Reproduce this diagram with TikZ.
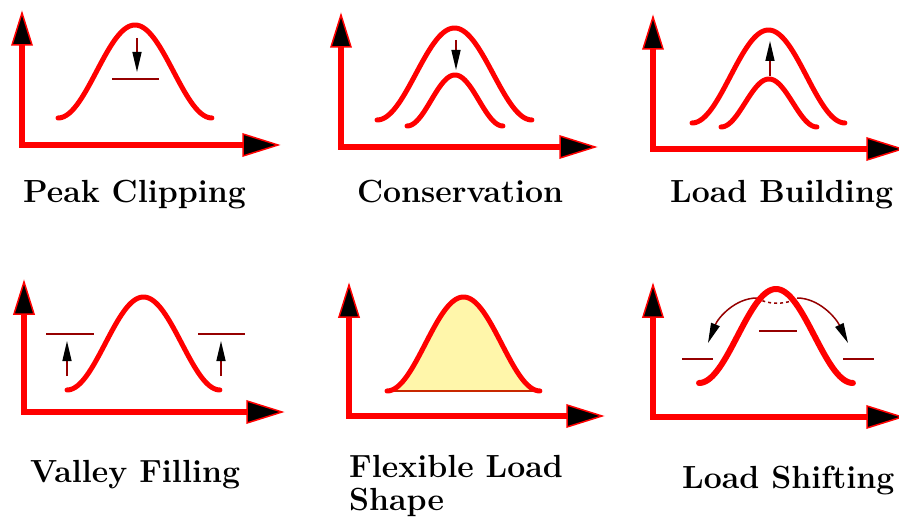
\documentclass[tikz,border=0pt]{standalone}
\usetikzlibrary{arrows.meta}
\definecolor{axred}{RGB}{255,0,0}
\definecolor{thinred}{RGB}{150,0,0}
\definecolor{fillyel}{RGB}{255,246,170}
\tikzset{
 axisline/.style={draw=axred, line width=6pt},
 curve/.style={draw=axred, line width=5pt, line cap=round, line join=round},
 thinbar/.style={draw=thinred, line width=1.5pt},
 smallarrow/.style={draw=thinred, line width=1.5pt, -{Triangle[length=20pt,width=9pt,black]}},
 ahead/.style={fill=black, draw=axred, line width=1.5pt, line join=miter},
 lbl/.style={font=\bfseries\fontsize{32}{36}\selectfont, anchor=base west, inner sep=0pt},
}
% #1 name, #2 x, #3 ytop, #4 ybottom, #5 xright
\newcommand\myaxes[5]{%
 \coordinate (#1o) at (#2,#4);
 \coordinate (#1y) at (#2,#3);
 \coordinate (#1x) at (#5,#4);
 \draw[axisline] (#2,#3+30) -- (#1o) -- (#5-30,#4);
 \path[ahead] (#1y) -- ++(-10,32) -- ++(20,0) -- cycle;
 \path[ahead] (#1x) -- ++(-35,-11) -- ++(0,22) -- cycle;
}
% #1 x0, #2 x1, #3 ybase, #4 ypeak, #5 style
\newcommand\mybell[5]{%
 \draw[#5] plot[domain=0:1, samples=80] ({#1+(#2-#1)*\x}, {#3-(#3-#4)*(1-cos(360*\x))/2});
}
\begin{document}
\begin{tikzpicture}[x=1pt,y=-1pt]
\useasboundingbox (0,0) rectangle (899,521);

% ---------- Peak Clipping ----------
\myaxes{a}{22}{13}{145}{278}
\mybell{58}{212}{118}{25}{curve}
\coordinate (a1) at (137,38);
\coordinate (a2) at (137,72);
\draw[smallarrow] (a1) -- (a2);
\draw[thinbar] (112,79) -- (159,79);
\node[lbl] (la) at (23,203) {Peak Clipping};

% ---------- Conservation ----------
\myaxes{b}{341}{15}{147}{595}
\mybell{377}{532}{120}{28}{curve}
\mybell{407}{503}{126}{75}{curve}
\coordinate (b1) at (456,40);
\coordinate (b2) at (456,70);
\draw[smallarrow] (b1) -- (b2);
\node[lbl] (lb) at (357,203) {Conservation};

% ---------- Load Building ----------
\myaxes{c}{653}{17}{149}{902}
\mybell{692}{845}{123}{30}{curve}
\mybell{721}{817}{127}{79}{curve}
\coordinate (c1) at (770,76);
\coordinate (c2) at (770,41);
\draw[smallarrow] (c1) -- (c2);
\node[lbl] (lc) at (670,203) {Load Building};

% ---------- Valley Filling ----------
\myaxes{d}{24}{282}{412}{282}
\mybell{67}{220}{390}{297}{curve}
\draw[thinbar] (46,334) -- (94,334);
\draw[thinbar] (198,334) -- (245,334);
\coordinate (d1) at (67,376);
\coordinate (d2) at (67,341);
\coordinate (d3) at (221,376);
\coordinate (d4) at (221,341);
\draw[smallarrow] (d1) -- (d2);
\draw[smallarrow] (d3) -- (d4);
\node[lbl] (ld) at (30,482) {Valley Filling};

% ---------- Flexible Load Shape ----------
\myaxes{e}{349}{285}{416}{602}
\fill[fillyel] plot[domain=0:1, samples=80] ({387+153*\x}, {391-94*(1-cos(360*\x))/2}) -- cycle;
\draw[draw={rgb,255:red,200;green,40;blue,0}, line width=1.5pt] (389,391) -- (538,391);
\mybell{387}{540}{391}{297}{curve}
\node[lbl] (le1) at (349,477) {Flexible Load};
\node[lbl] (le2) at (349,510) {Shape};

% ---------- Load Shifting ----------
\myaxes{f}{653}{285}{417}{902}
\coordinate (f1) at (757,298);
\coordinate (f2) at (797,298);
\coordinate (f3) at (708,343);
\coordinate (f4) at (848,343);
\draw[thinbar, dashed] (f1) .. controls (767,305) and (787,305) .. (f2);
\draw[smallarrow] (f1) .. controls (735,298) and (718,318) .. (f3);
\draw[smallarrow] (f2) .. controls (819,298) and (836,318) .. (f4);
\draw[thinbar] (759,331) -- (797,331);
\draw[thinbar] (682,359) -- (713,359);
\draw[thinbar] (843,359) -- (874,359);
\mybell{699}{853}{383}{289}{curve, line width=6pt}
\node[lbl] (lf) at (682,488) {Load Shifting};
\end{tikzpicture}
\end{document}
